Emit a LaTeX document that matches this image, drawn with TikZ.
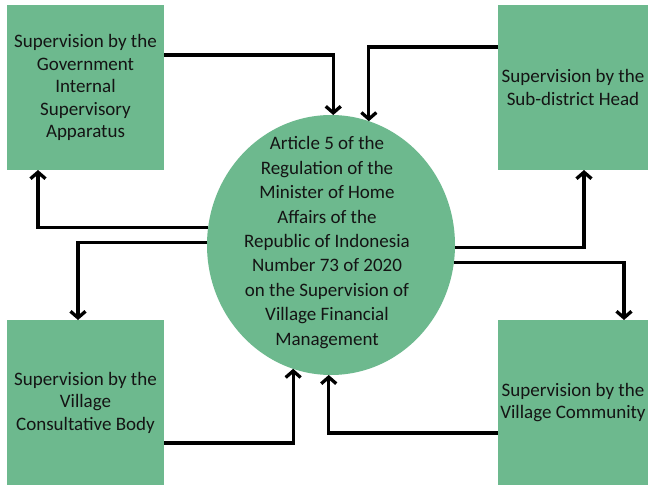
\documentclass[tikz,border=0pt]{standalone}
\usepackage{fontspec}
\setmainfont{Carlito}
\usetikzlibrary{arrows.meta,shapes.geometric}
\definecolor{boxgreen}{RGB}{109,185,142}
\definecolor{txt}{RGB}{20,20,20}
\begin{document}
\begin{tikzpicture}[x=1pt,y=-1pt,
  box/.style={rectangle, fill=boxgreen, inner sep=0pt, outer sep=0pt, align=center,
    font=\fontsize{19}{22.5}\selectfont, text=txt},
  conn/.style={line width=3.3pt, -{Straight Barb[length=6.5pt,width=15pt]}}]
\fill[white] (0,0) rectangle (648,485);
\useasboundingbox (0,0) rectangle (648,485);
% boxes
\node[box, minimum width=157pt, minimum height=165pt] (tl) at (85.5,87.5)
  {Supervision by the\\Government\\Internal\\Supervisory\\Apparatus};
\node[box, minimum width=150pt, minimum height=165pt] (tr) at (573,87.5)
  {Supervision by the\\Sub-district Head};
\node[box, minimum width=157pt, minimum height=165pt] (bl) at (85.5,402.5)
  {Supervision by the\\Village\\Consultative Body};
\node[box, minimum width=150pt, minimum height=165pt] (br) at (573,402.5)
  {Supervision by the\\Village Community};
% central ellipse
\node[ellipse, fill=boxgreen, inner sep=0pt, outer sep=0pt,
  minimum width=248pt, minimum height=260pt] (c) at (331,245) {};
\node[align=center, inner sep=0pt, font=\fontsize{19}{24.4}\selectfont, text=txt] (ct) at (327,242.5)
  {Article 5 of the\\Regulation of the\\Minister of Home\\Affairs of the\\Republic of Indonesia\\Number 73 of 2020\\on the Supervision of\\Village Financial\\Management};
% connectors
\draw[conn] ([yshift=32.5pt]tl.east) -| (c.89);
\draw[conn] ([yshift=40.5pt]tr.west) -| (c.73);
\draw[conn] (c.172) -| ([xshift=31pt]tl.south west);
\draw[conn] (c.179) -| ([xshift=71pt]bl.north west);
\draw[conn] ([yshift=-40.5pt]bl.east) -| (c.253);
\draw[conn] ([yshift=-30.5pt]br.west) -| (c.269);
\draw[conn] (c.359) -| ([xshift=86pt]tr.south west);
\draw[conn] (c.352) -| ([xshift=126pt]br.north west);
\end{tikzpicture}
\end{document}
